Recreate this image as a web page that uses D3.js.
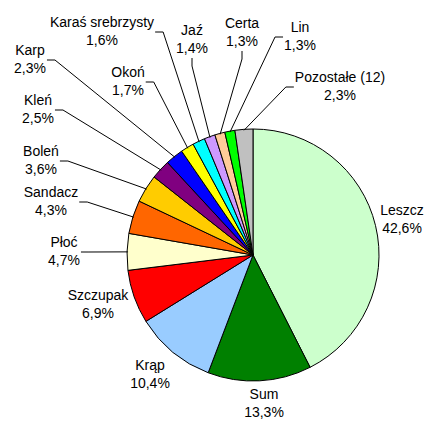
<!DOCTYPE html>
<html>
<head>
<meta charset="utf-8">
<script src="https://cdn.jsdelivr.net/npm/d3@7"></script>
<style>
  body { margin: 0; background: #fff; }
  text { font-family: "Liberation Sans", Arial, sans-serif; font-size: 14px; fill: #000; }
</style>
</head>
<body>
<div id="chart"></div>
<script>
// gatunki i udzialy (%)
var species = ["Leszcz", "Sum", "Krąp", "Szczupak", "Płoć", "Sandacz", "Boleń", "Kleń",
  "Karp", "Okoń", "Karaś srebrzysty", "Jaź", "Certa", "Lin", "Pozostałe (12)"];
var shares = [42.6, 13.3, 10.4, 6.9, 4.7, 4.3, 3.6, 2.5, 2.3, 1.7, 1.6, 1.4, 1.3, 1.3, 2.3];
var colors = ["#ccffcc", "#008000", "#99ccff", "#ff0000", "#ffffcc", "#ff6600", "#ffcc00", "#800080",
  "#0000ff", "#ffff00", "#00ffff", "#cc99ff", "#ffcc99", "#00ff00", "#c0c0c0"];

// label placement (center x, first line y, leader side)
var labelLayout = [
  [402, 210, null], [264, 394, null], [150, 365, null], [98, 295, null],
  [64, 242, "r"], [51, 192, "r"], [41, 151, "r"], [38, 100, "r"], [30, 50, "r"],
  [128, 72, "r"], [102, 22, "r"], [192, 30, "b"], [242, 23, "b"], [300, 27, "l"], [340, 77, "l"]
];

var width = 427, height = 421;
var cx = 253, cy = 255, radius = 126;

var data = species.map(function(s, i) { return {name: s, value: shares[i], color: colors[i], pos: labelLayout[i]}; });

var svg = d3.select("#chart").append("svg")
  .attr("width", width)
  .attr("height", height);

var pie = d3.pie().sort(null).value(function(d) { return d.value; });
var arc = d3.arc().innerRadius(0).outerRadius(radius);
var edge = d3.arc().innerRadius(radius - 1).outerRadius(radius - 1);

var g = svg.append("g").attr("transform", "translate(" + cx + "," + cy + ")");
var arcs = pie(data);

g.selectAll("path.slice")
  .data(arcs)
  .enter()
  .append("path")
    .attr("class", "slice")
    .attr("d", arc)
    .style("fill", function(d) { return d.data.color; })
    .style("stroke", "#000")
    .style("stroke-width", 1);

var fmt = function(v) { return d3.format(".1f")(v).replace(".", ",") + "%"; };

// labels
var labels = svg.append("g");
arcs.forEach(function(d) {
  var p = d.data.pos;
  var t = labels.append("text").attr("text-anchor", "middle");
  t.append("tspan").attr("x", p[0]).attr("y", p[1] + 5).text(d.data.name);
  t.append("tspan").attr("x", p[0]).attr("y", p[1] + 23).text(fmt(d.data.value));
  if (!p[2]) return;

  var bb = t.node().getBBox();
  var start, stub;
  if (p[2] === "r") {
    start = [bb.x + bb.width + 1, p[1] + 10];
    stub = [start[0] + 8, start[1]];
  } else if (p[2] === "l") {
    start = [bb.x - 1, p[1] + 10];
    stub = [start[0] - 8, start[1]];
  } else {
    start = [p[0], bb.y + bb.height + 2];
    stub = [start[0], start[1] + 8];
  }
  var e = edge.centroid(d);
  var end = [cx + e[0], cy + e[1]];
  svg.append("path")
    .attr("d", d3.line()([start, stub, end]))
    .style("fill", "none")
    .style("stroke", "#000")
    .style("stroke-width", 1);
});
</script>
</body>
</html>
